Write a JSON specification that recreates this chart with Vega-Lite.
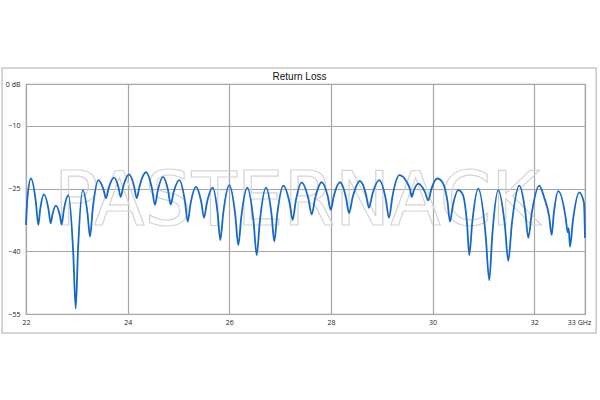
{
  "$schema": "https://vega.github.io/schema/vega-lite/v6.json",
  "width": 559,
  "height": 230,
  "autosize": "none",
  "padding": {"left": 26, "top": 84, "right": 15, "bottom": 86},
  "background": "white",
  "title": {"text": "Return Loss", "font": "Liberation Sans", "fontSize": 10, "fontWeight": "normal", "color": "#111111", "offset": 4, "dx": -6, "dy": 19},
  "config": {
    "view": {"stroke": "#a6a6a6", "strokeWidth": 1.2},
    "axis": {"labelFont": "Open Sans", "labelFontSize": 7, "labelColor": "#222222", "domain": false, "ticks": false, "grid": true, "gridColor": "#a6a6a6", "gridWidth": 1.2, "gridOpacity": 1, "title": null}
  },
  "layer": [
    {
      "data": {"values": [{"k": 1}]},
      "mark": {"type": "rect", "fill": "transparent", "stroke": "#c8c8c8", "strokeWidth": 1.5, "clip": false},
      "encoding": {
        "x": {"datum": 21.53, "type": "quantitative", "scale": {"domain": [22, 33], "nice": false, "zero": false},
              "axis": {"grid": true, "values": [22, 24, 26, 28, 30, 32, 33], "labelPadding": 4, "labelFlush": false, "labelOverlap": false,
                       "labelExpr": "datum.value == 33 ? '33 GHz' : datum.label",
                       "labelOffset": {"condition": {"test": "datum.value == 33", "value": -6}, "value": 0}}},
        "x2": {"datum": 33.22},
        "y": {"datum": 3.83, "type": "quantitative", "scale": {"domain": [-55, 0], "nice": false, "zero": false},
              "axis": {"grid": true, "values": [0, -10, -25, -40, -55], "labelPadding": 6, "labelFlush": false, "labelOverlap": false,
                       "labelExpr": "datum.value == 0 ? '0 dB' : datum.label"}},
        "y2": {"datum": -59.57}
      }
    },
    {
      "data": {"values": [{"w": "PASTERNACK"}]},
      "mark": {"type": "text", "font": "DejaVu Sans", "fontSize": 74, "fill": "transparent", "stroke": "#d4d4d4", "strokeWidth": 1.2, "align": "center", "baseline": "middle"},
      "encoding": {
        "text": {"field": "w"},
        "x": {"datum": 27.33, "type": "quantitative", "scale": {"domain": [22, 33], "nice": false, "zero": false},
              "axis": {"grid": true, "values": [22, 24, 26, 28, 30, 32, 33], "labelPadding": 4, "labelFlush": false, "labelOverlap": false,
                       "labelExpr": "datum.value == 33 ? '33 GHz' : datum.label",
                       "labelOffset": {"condition": {"test": "datum.value == 33", "value": -6}, "value": 0}}},
        "y": {"datum": -28.4, "type": "quantitative", "scale": {"domain": [-55, 0], "nice": false, "zero": false},
              "axis": {"grid": true, "values": [0, -10, -25, -40, -55], "labelPadding": 6, "labelFlush": false, "labelOverlap": false,
                       "labelExpr": "datum.value == 0 ? '0 dB' : datum.label"}}
      }
    },
    {
      "data": {"values": [
        {"f": 22.000, "db": -33.7}, {"f": 22.030, "db": -27.0}, {"f": 22.098, "db": -22.6},
        {"f": 22.194, "db": -28.2}, {"f": 22.242, "db": -33.7}, {"f": 22.279, "db": -30.0}, {"f": 22.354, "db": -26.4},
        {"f": 22.442, "db": -29.9}, {"f": 22.486, "db": -33.3}, {"f": 22.521, "db": -31.2}, {"f": 22.590, "db": -29.1},
        {"f": 22.665, "db": -31.4}, {"f": 22.702, "db": -33.6}, {"f": 22.745, "db": -30.1}, {"f": 22.832, "db": -26.6},
        {"f": 22.929, "db": -40.2}, {"f": 22.978, "db": -53.7}, {"f": 23.024, "db": -39.6}, {"f": 23.116, "db": -25.4},
        {"f": 23.211, "db": -31.0}, {"f": 23.259, "db": -36.5}, {"f": 23.314, "db": -29.8}, {"f": 23.423, "db": -23.0},
        {"f": 23.524, "db": -25.2}, {"f": 23.574, "db": -27.3}, {"f": 23.627, "db": -24.9}, {"f": 23.732, "db": -22.4},
        {"f": 23.819, "db": -24.7}, {"f": 23.863, "db": -27.0}, {"f": 23.918, "db": -24.3}, {"f": 24.027, "db": -21.6},
        {"f": 24.128, "db": -24.5}, {"f": 24.178, "db": -27.3}, {"f": 24.239, "db": -24.2}, {"f": 24.361, "db": -21.1},
        {"f": 24.479, "db": -25.0}, {"f": 24.538, "db": -28.9}, {"f": 24.591, "db": -25.6}, {"f": 24.696, "db": -22.2},
        {"f": 24.797, "db": -25.5}, {"f": 24.847, "db": -28.8}, {"f": 24.904, "db": -25.9}, {"f": 25.017, "db": -23.0},
        {"f": 25.127, "db": -28.0}, {"f": 25.182, "db": -32.9}, {"f": 25.236, "db": -28.8}, {"f": 25.345, "db": -24.6},
        {"f": 25.450, "db": -28.3}, {"f": 25.503, "db": -32.0}, {"f": 25.560, "db": -28.4}, {"f": 25.674, "db": -24.8},
        {"f": 25.773, "db": -31.1}, {"f": 25.823, "db": -37.3}, {"f": 25.882, "db": -30.8}, {"f": 26.000, "db": -24.2},
        {"f": 26.119, "db": -31.4}, {"f": 26.178, "db": -38.5}, {"f": 26.237, "db": -31.7}, {"f": 26.355, "db": -24.8},
        {"f": 26.478, "db": -32.9}, {"f": 26.540, "db": -40.9}, {"f": 26.601, "db": -32.9}, {"f": 26.723, "db": -24.8},
        {"f": 26.832, "db": -31.2}, {"f": 26.886, "db": -37.6}, {"f": 26.945, "db": -31.0}, {"f": 27.063, "db": -24.3},
        {"f": 27.186, "db": -28.4}, {"f": 27.248, "db": -32.5}, {"f": 27.307, "db": -28.1}, {"f": 27.425, "db": -23.6},
        {"f": 27.556, "db": -27.4}, {"f": 27.622, "db": -31.2}, {"f": 27.688, "db": -27.4}, {"f": 27.819, "db": -23.5},
        {"f": 27.937, "db": -26.8}, {"f": 27.996, "db": -30.1}, {"f": 28.057, "db": -26.8}, {"f": 28.179, "db": -23.5},
        {"f": 28.297, "db": -27.2}, {"f": 28.356, "db": -30.9}, {"f": 28.428, "db": -27.1}, {"f": 28.572, "db": -23.2},
        {"f": 28.690, "db": -26.4}, {"f": 28.749, "db": -29.6}, {"f": 28.817, "db": -26.3}, {"f": 28.952, "db": -23.0},
        {"f": 29.079, "db": -27.5}, {"f": 29.143, "db": -32.0}, {"f": 29.211, "db": -26.9}, {"f": 29.346, "db": -21.8},
        {"f": 29.491, "db": -23.4}, {"f": 29.557, "db": -25.2}, {"f": 29.590, "db": -27.0}, {"f": 29.633, "db": -25.4},
        {"f": 29.719, "db": -23.8}, {"f": 29.850, "db": -25.8}, {"f": 29.916, "db": -27.8}, {"f": 29.975, "db": -25.2},
        {"f": 30.093, "db": -22.6}, {"f": 30.200, "db": -23.6}, {"f": 30.295, "db": -28.2}, {"f": 30.343, "db": -32.9},
        {"f": 30.398, "db": -29.2}, {"f": 30.507, "db": -25.4}, {"f": 30.593, "db": -26.4}, {"f": 30.680, "db": -33.6},
        {"f": 30.723, "db": -40.9}, {"f": 30.782, "db": -33.0}, {"f": 30.900, "db": -25.0}, {"f": 31.044, "db": -36.0},
        {"f": 31.116, "db": -46.9}, {"f": 31.175, "db": -36.2}, {"f": 31.293, "db": -25.4}, {"f": 31.424, "db": -33.9},
        {"f": 31.490, "db": -42.3}, {"f": 31.562, "db": -33.3}, {"f": 31.707, "db": -24.3}, {"f": 31.825, "db": -30.6},
        {"f": 31.884, "db": -36.8}, {"f": 31.956, "db": -30.6}, {"f": 32.100, "db": -24.3}, {"f": 32.193, "db": -27.0},
        {"f": 32.294, "db": -31.6}, {"f": 32.344, "db": -36.1}, {"f": 32.387, "db": -30.9}, {"f": 32.474, "db": -25.6},
        {"f": 32.620, "db": -32.0}, {"f": 32.660, "db": -35.5}, {"f": 32.680, "db": -34.5}, {"f": 32.704, "db": -38.9},
        {"f": 32.765, "db": -32.4}, {"f": 32.887, "db": -25.9}, {"f": 32.980, "db": -28.5}, {"f": 33.000, "db": -36.8}
      ]},
      "mark": {"type": "line", "color": "#1769c8", "strokeWidth": 1.8, "interpolate": "monotone"},
      "encoding": {
        "x": {"field": "f", "type": "quantitative",
              "scale": {"domain": [22, 33], "nice": false, "zero": false},
              "axis": {"grid": true, "values": [22, 24, 26, 28, 30, 32, 33], "labelPadding": 4, "labelFlush": false, "labelOverlap": false,
                       "labelExpr": "datum.value == 33 ? '33 GHz' : datum.label",
                       "labelOffset": {"condition": {"test": "datum.value == 33", "value": -6}, "value": 0}}},
        "y": {"field": "db", "type": "quantitative",
              "scale": {"domain": [-55, 0], "nice": false, "zero": false},
              "axis": {"grid": true, "values": [0, -10, -25, -40, -55], "labelPadding": 6, "labelFlush": false, "labelOverlap": false,
                       "labelExpr": "datum.value == 0 ? '0 dB' : datum.label"}}
      }
    }
  ]
}
